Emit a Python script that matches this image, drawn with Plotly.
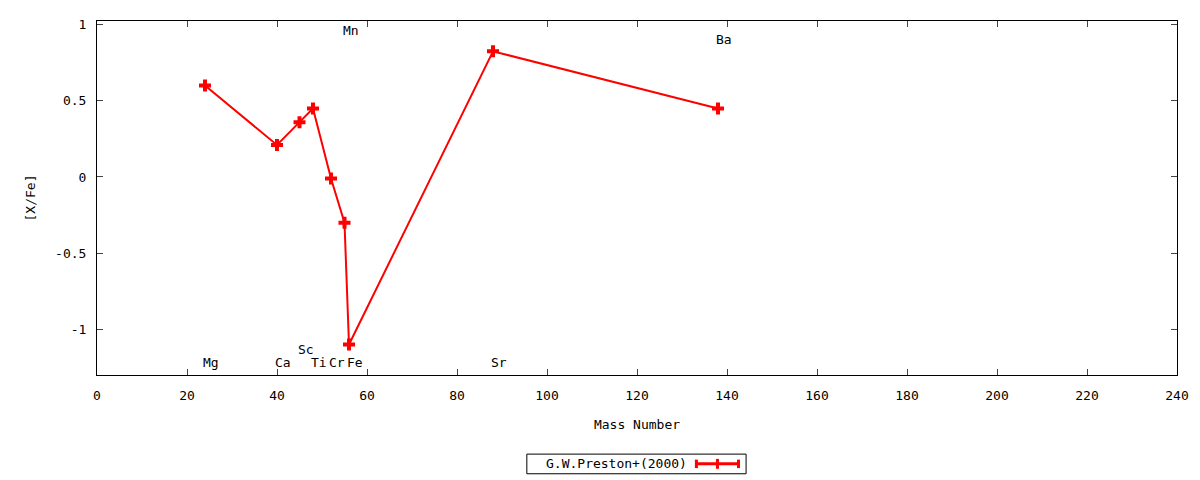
import plotly.graph_objects as go

# element abundances, G.W.Preston+(2000)
elements = ["Mg", "Ca", "Sc", "Ti", "Cr", "Mn", "Fe", "Sr", "Ba"]
mass = [24, 40, 45, 48, 52, 55, 56, 88, 138]
xfe = [0.60, 0.21, 0.36, 0.45, -0.01, -0.30, -1.10, 0.825, 0.45]

# label positions along the frame
label_y = [-1.22, -1.22, -1.13, -1.22, -1.22, 0.96, -1.22, -1.22, 0.90]

xticks = list(range(0, 241, 20))
yticks = [-1, -0.5, 0, 0.5, 1]
yticktext = ["-1", "-0.5", "0", "0.5", "1"]

font = dict(family="DejaVu Sans Mono", size=13, color="black")
red = "#ff0000"

fig = go.Figure()
fig.add_trace(go.Scatter(
    x=mass, y=xfe, mode="lines+markers",
    line=dict(color=red, width=2),
    marker=dict(symbol="cross", size=10, color=red),
    name="G.W.Preston+(2000)", showlegend=False,
))

for el, m, ly in zip(elements, mass, label_y):
    fig.add_annotation(x=m, y=ly, text=el, showarrow=False, xanchor="left",
                       xshift=-4, font=font)

# gnuplot-like legend box below the plot
fig.add_shape(type="rect", xref="paper", yref="paper",
              x0=0.398, x1=0.601, y0=-0.279, y1=-0.2235,
              line=dict(color="black", width=1))
fig.add_annotation(xref="paper", yref="paper", x=0.548, y=-0.251,
                   text="G.W.Preston+(2000)", showarrow=False,
                   xanchor="right", yanchor="middle", font=font)
lx0, lx1, ly = 0.555, 0.594, -0.251
fig.add_shape(type="line", xref="paper", yref="paper",
              x0=lx0, x1=lx1, y0=ly, y1=ly, line=dict(color=red, width=3))
for xx in (lx0, lx1):
    fig.add_shape(type="line", xref="paper", yref="paper",
                  x0=xx, x1=xx, y0=ly - 0.012, y1=ly + 0.012,
                  line=dict(color=red, width=3))
lm = (lx0 + lx1) / 2
fig.add_shape(type="line", xref="paper", yref="paper",
              x0=lm, x1=lm, y0=ly - 0.014, y1=ly + 0.014,
              line=dict(color=red, width=3))

fig.update_xaxes(range=[0, 240], tickvals=xticks, ticks="inside", ticklen=6,
                 showline=True, linecolor="black", linewidth=1, mirror="ticks",
                 showgrid=False, zeroline=False, tickfont=font,
                 ticklabelstandoff=8,
                 title=dict(text="Mass Number", font=font, standoff=18))
fig.update_yaxes(range=[-1.3, 1.024], tickvals=yticks, ticktext=yticktext,
                 ticks="inside", ticklen=6, showline=True, linecolor="black",
                 linewidth=1, mirror="ticks", showgrid=False, zeroline=False,
                 tickfont=font, ticklabelstandoff=7,
                 title=dict(text="[X/Fe]", font=font, standoff=16))

# page body has an 8px margin, so shrink the figure to keep the frame in place
fig.update_layout(width=1192, height=472, plot_bgcolor="white",
                  paper_bgcolor="white",
                  margin=dict(l=89, r=23, t=9, b=105))

fig.write_html("out.html")
